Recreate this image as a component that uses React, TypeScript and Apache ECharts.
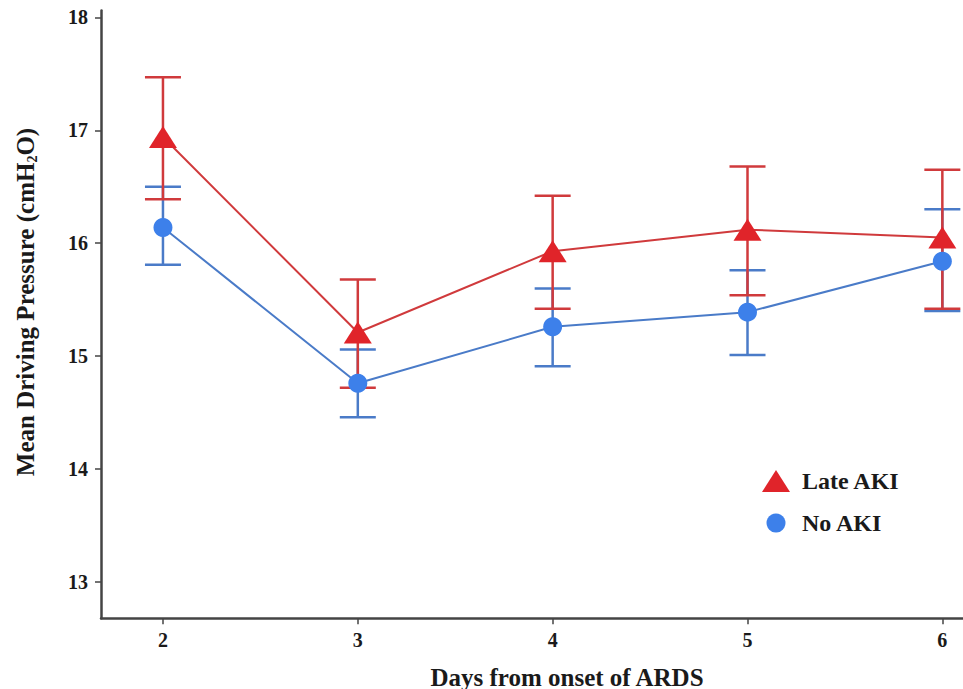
import React, { useEffect, useRef } from "react";
import * as echarts from "echarts";

const days = [2, 3, 4, 5, 6];
const seriesNames = ["Late AKI", "No AKI"];
const lateMean = [16.94, 15.21, 15.93, 16.12, 16.05];
const lateUpper = [17.47, 15.68, 16.42, 16.68, 16.65];
const lateLower = [16.39, 14.72, 15.42, 15.54, 15.42];
const noMean = [16.14, 14.76, 15.26, 15.39, 15.84];
const noUpper = [16.5, 15.06, 15.6, 15.76, 16.3];
const noLower = [15.81, 14.46, 14.91, 15.01, 15.4];
const yTicks = [13, 14, 15, 16, 17, 18];
const xTitle = "Days from onset of ARDS";

const RED_LINE = "#d03a3c";
const RED_MARK = "#e0242a";
const BLUE_LINE = "#4a7bc8";
const BLUE_MARK = "#3d80ea";
const FONT = "Liberation Serif";

const X_MIN = 1.682;
const X_MAX = 6.106;
const Y_MIN = 12.68;
const Y_MAX = 18.06;

function errorSeries(lo: number[], hi: number[], color: string) {
  return {
    type: "custom",
    z: 2,
    data: days.map((d, i) => [d, lo[i], hi[i]]),
    encode: { x: 0, y: [1, 2] },
    renderItem: (params: any, api: any) => {
      const x = api.value(0);
      const pLo = api.coord([x, api.value(1)]);
      const pHi = api.coord([x, api.value(2)]);
      const hw = 18;
      const style = { stroke: color, lineWidth: 2.5 };
      return {
        type: "group",
        children: [
          { type: "line", shape: { x1: pLo[0], y1: pLo[1], x2: pHi[0], y2: pHi[1] }, style },
          { type: "line", shape: { x1: pLo[0] - hw, y1: pLo[1], x2: pLo[0] + hw, y2: pLo[1] }, style },
          { type: "line", shape: { x1: pHi[0] - hw, y1: pHi[1], x2: pHi[0] + hw, y2: pHi[1] }, style },
        ],
      };
    },
  };
}

export default function App() {
  const ref = useRef<HTMLDivElement>(null);
  useEffect(() => {
    if (!ref.current) return;
    const chart = echarts.init(ref.current, null, { renderer: "svg" });
    const staticGraphics: any[] = [
      {
        type: "text",
        x: 25,
        y: 302,
        rotation: Math.PI / 2,
        style: {
          text: "Mean Driving Pressure (cmH{sub|2}O)",
          fontFamily: FONT,
          fontWeight: "bold",
          fontSize: 25,
          fill: "#1a1a1a",
          align: "center",
          verticalAlign: "middle",
          rich: {
            sub: { fontFamily: FONT, fontWeight: "bold", fontSize: 14, fill: "#1a1a1a", padding: [14, 0, 0, 0] },
          },
        },
      },
      {
        type: "text",
        x: 567,
        y: 677,
        style: {
          text: xTitle,
          fontFamily: FONT,
          fontWeight: "bold",
          fontSize: 25,
          fill: "#1a1a1a",
          align: "center",
          verticalAlign: "middle",
        },
      },
      {
        type: "polygon",
        shape: { points: [[762, 492], [776, 470], [790, 492]] },
        style: { fill: RED_MARK },
      },
      {
        type: "text",
        x: 802,
        y: 481,
        style: { text: seriesNames[0], fontFamily: FONT, fontWeight: "bold", fontSize: 24, fill: "#1a1a1a", verticalAlign: "middle" },
      },
      {
        type: "circle",
        shape: { cx: 776, cy: 523, r: 9.5 },
        style: { fill: BLUE_MARK },
      },
      {
        type: "text",
        x: 802,
        y: 523,
        style: { text: seriesNames[1], fontFamily: FONT, fontWeight: "bold", fontSize: 24, fill: "#1a1a1a", verticalAlign: "middle" },
      },
    ];
    chart.setOption({
      animation: false,
      backgroundColor: "#ffffff",
      grid: { left: 101, right: 0, top: 10.5, bottom: 70.7, containLabel: false, outerBoundsMode: "none" },
      xAxis: {
        type: "value",
        min: X_MIN,
        max: X_MAX,
        axisLine: { show: true, onZero: false, lineStyle: { color: "#444", width: 2.5 } },
        axisTick: { show: true, inside: false, length: 6, customValues: days, lineStyle: { color: "#444", width: 1.5 } },
        axisLabel: { show: false },
        splitLine: { show: false },
      },
      yAxis: {
        type: "value",
        min: Y_MIN,
        max: Y_MAX,
        axisLine: { show: true, onZero: false, lineStyle: { color: "#444", width: 2.5 } },
        axisTick: { show: true, inside: false, length: 6, customValues: yTicks, lineStyle: { color: "#444", width: 1.5 } },
        axisLabel: { show: false },
        splitLine: { show: false },
      },
      graphic: staticGraphics,
      series: [
        errorSeries(noLower, noUpper, BLUE_LINE),
        errorSeries(lateLower, lateUpper, RED_LINE),
        {
          name: seriesNames[1],
          type: "line",
          z: 3,
          data: days.map((d, i) => [d, noMean[i]]),
          symbol: "circle",
          symbolSize: 19,
          lineStyle: { color: BLUE_LINE, width: 2 },
          itemStyle: { color: BLUE_MARK },
        },
        {
          name: seriesNames[0],
          type: "line",
          z: 4,
          data: days.map((d, i) => [d, lateMean[i]]),
          symbol: "triangle",
          symbolSize: [28, 22],
          lineStyle: { color: RED_LINE, width: 2 },
          itemStyle: { color: RED_MARK },
        },
      ],
    });
    // tick labels placed through the chart's own scales
    const tickStyle = { fontFamily: FONT, fontWeight: "bold", fontSize: 20, fill: "#1a1a1a" };
    const axisY = chart.convertToPixel({ gridIndex: 0 }, [X_MIN, Y_MIN]) as number[];
    const xLabels = days.map((d) => {
      const p = chart.convertToPixel({ gridIndex: 0 }, [d, Y_MIN]) as number[];
      return {
        type: "text",
        x: p[0],
        y: axisY[1] + 22,
        style: { ...tickStyle, text: String(d), align: "center", verticalAlign: "middle" },
      };
    });
    const yLabels = yTicks.map((v) => {
      const p = chart.convertToPixel({ gridIndex: 0 }, [X_MIN, v]) as number[];
      return {
        type: "text",
        x: axisY[0] - 13,
        y: p[1],
        style: { ...tickStyle, text: String(v), align: "right", verticalAlign: "middle" },
      };
    });
    chart.setOption({ graphic: [...staticGraphics, ...xLabels, ...yLabels] });
    return () => chart.dispose();
  }, []);
  return <div ref={ref} style={{ position: "absolute", left: 0, top: 0, width: 963, height: 689 }} />;
}
